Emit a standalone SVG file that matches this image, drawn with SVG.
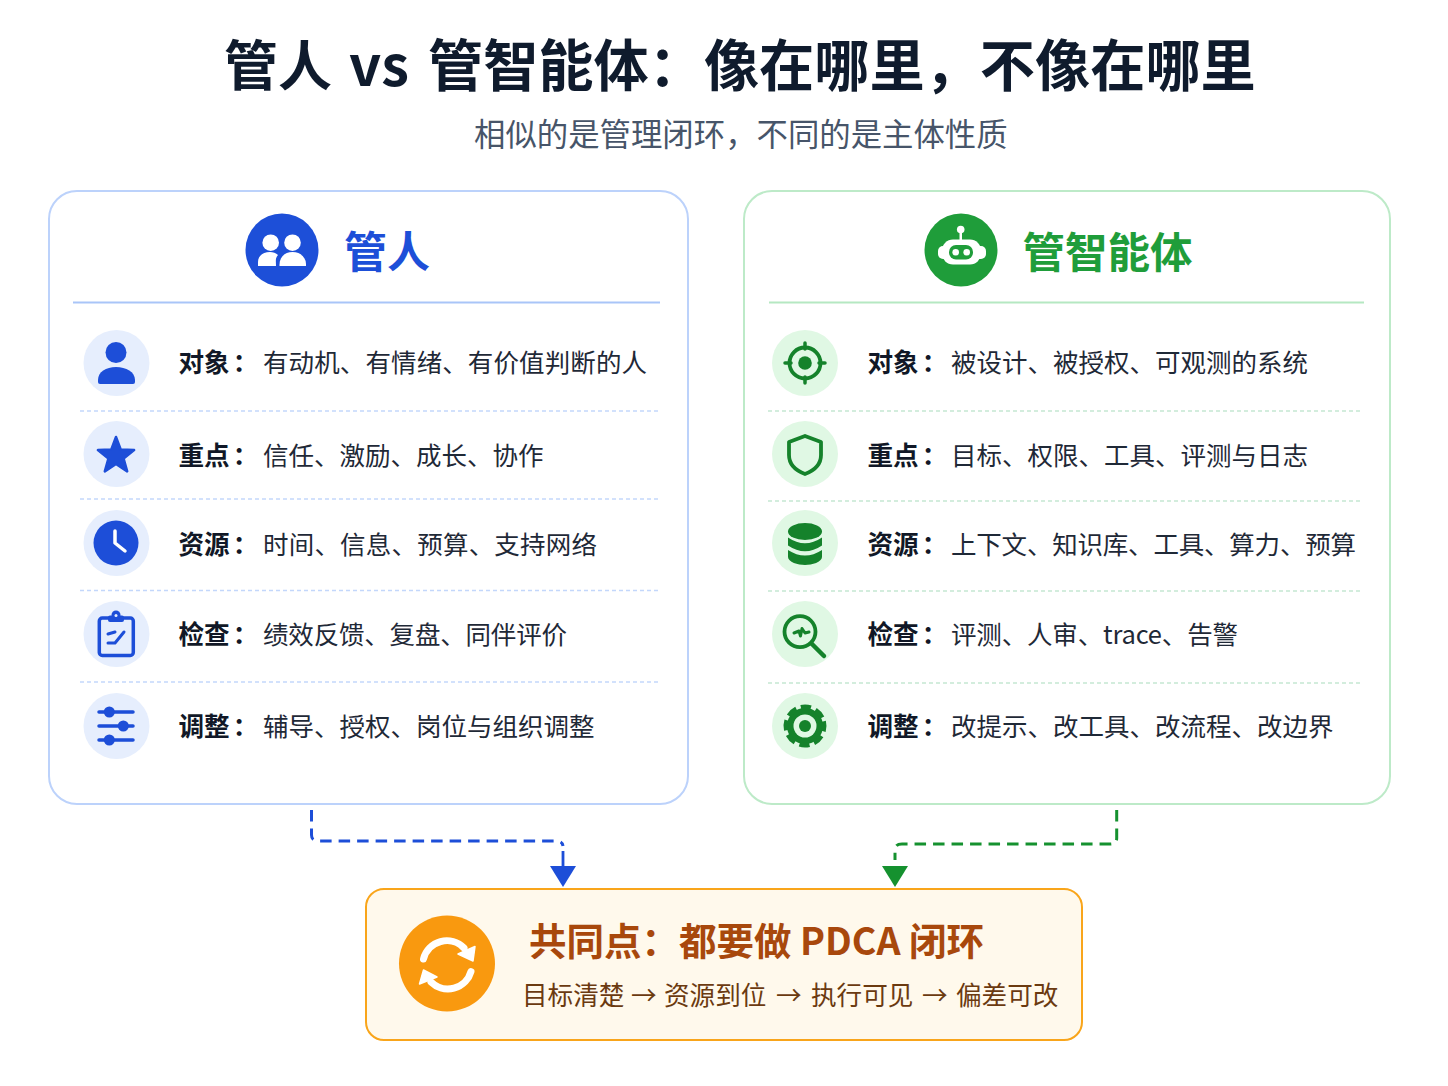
<svg xmlns="http://www.w3.org/2000/svg" width="1448" height="1086" viewBox="0 0 1448 1086">
<style>
text{font-family:"Noto Sans CJK SC","Noto Sans",sans-serif}
.t{font-size:54px;font-weight:700;fill:#0f1b2d}
.sub{font-size:31.4px;fill:#475569}
.lab{font-size:25.6px;font-weight:700;fill:#111827}
.val{font-size:25.5px;fill:#1f2937}
.low{font-size:25.6px;fill:#6b3a10}
.card{fill:#fff;stroke-width:2}
.bl{fill:#1d4ed8}.gr{fill:#15822b}
.bs{fill:none;stroke:#1d4ed8;stroke-linecap:round;stroke-linejoin:round}
.gs{fill:none;stroke:#15822b;stroke-linecap:round;stroke-linejoin:round}
.bd{stroke:#c3d7fb;stroke-width:1.5;stroke-dasharray:4 3}
.gd{stroke:#c5e8d2;stroke-width:1.5;stroke-dasharray:4 3}
.bc{fill:#e6eefd}.gc{fill:#e0f8e4}
</style>
<rect width="1448" height="1086" fill="#fff"/>
<g id="title">
<text class="t" x="224" y="86">管人</text>
<text class="t" x="349" y="86" style="font-size:56px">vs</text>
<text class="t" x="428" y="86" style="font-size:55.200px">管智能体：像在哪里，不像在哪里</text>
<text class="sub" x="474" y="146">相似的是管理闭环，不同的是主体性质</text>
</g>
<g id="card-human">
<rect class="card" x="49" y="191" width="639" height="613" rx="28" stroke="#bcd2fb"/>
<circle cx="282" cy="250" r="36.5" fill="#1d4fd8"/>
<g fill="#fff">
<circle cx="270.7" cy="242.7" r="8.3"/><circle cx="292.5" cy="242.7" r="8.3"/>
<path d="M258 266 V262 C258 256 263 252 270 252 C273 252 276 253 278 255 C275 258 276 262 276 266Z"/>
<path d="M279.500 266 C279 258 284 252 292.500 252 C301 252 306 258 306 264 V266Z"/>
</g>
<text x="344" y="268" style="font-size:43px;font-weight:700;fill:#1d4fd8">管人</text>
<line x1="73" y1="302.500" x2="660" y2="302.500" stroke="#a9c5f8" stroke-width="2"/>
<line class="bd" x1="80" y1="411" x2="660" y2="411"/>
<line class="bd" x1="80" y1="499" x2="660" y2="499"/>
<line class="bd" x1="80" y1="590.500" x2="660" y2="590.500"/>
<line class="bd" x1="80" y1="682" x2="660" y2="682"/>
</g>
<g id="human-object">
<circle class="bc" cx="116.500" cy="363" r="33"/>
<circle class="bl" cx="116" cy="352.500" r="10.500"/>
<path class="bl" d="M98 380 C98 372 106 367 116 367 C126 367 135 372 135 380 V382 Q135 384 133 384 H100 Q98 384 98 382Z"/>
<text class="lab" x="178.500" y="372">对象<tspan dx="3">：</tspan></text><text class="val" x="263" y="372" textLength="384">有动机、有情绪、有价值判断的人</text>
</g>
<g id="human-focus">
<circle class="bc" cx="116.500" cy="454" r="33"/>
<polygon class="bl" stroke="#1d4ed8" stroke-width="2.500" stroke-linejoin="round" points="116,437 120.700,449.500 134.100,450.100 123.600,458.500 127.200,471.400 116,464 104.800,471.400 108.400,458.500 97.900,450.100 111.300,449.500"/>
<text class="lab" x="178.500" y="465">重点<tspan dx="3">：</tspan></text><text class="val" x="263" y="465">信任、激励、成长、协作</text>
</g>
<g id="human-resource">
<circle class="bc" cx="116.500" cy="543" r="33"/>
<circle class="bl" cx="116" cy="543" r="22.500"/>
<path d="M115 531 V543 L125 551" fill="none" stroke="#fff" stroke-width="3.500" stroke-linecap="round" stroke-linejoin="round"/>
<text class="lab" x="178.500" y="554">资源<tspan dx="3">：</tspan></text><text class="val" x="263" y="554" textLength="334">时间、信息、预算、支持网络</text>
</g>
<g id="human-check">
<circle class="bc" cx="116.500" cy="634" r="33"/>
<rect class="bs" x="99.300" y="618" width="34" height="37.500" rx="3" stroke-width="3.500"/>
<rect class="bl" x="108" y="615.500" width="16" height="6.500" rx="2"/>
<circle class="bl" cx="116" cy="615" r="4.500"/><circle cx="116" cy="615.500" r="1.500" fill="#e6eefd"/>
<path class="bs" stroke-width="3" d="M108 634 L115 632 M108 643 H115 L124 632"/>
<text class="lab" x="178.500" y="644">检查<tspan dx="3">：</tspan></text><text class="val" x="263" y="644" textLength="304">绩效反馈、复盘、同伴评价</text>
</g>
<g id="human-adjust">
<circle class="bc" cx="116.500" cy="726" r="33"/>
<path class="bs" stroke-width="3.500" d="M99 712 H133 M99 726 H133 M99 740 H133"/>
<circle class="bl" cx="109.300" cy="712" r="5.500"/><circle class="bl" cx="123.300" cy="726" r="5.500"/><circle class="bl" cx="109.300" cy="740" r="5.500"/>
<text class="lab" x="178.500" y="736">调整<tspan dx="3">：</tspan></text><text class="val" x="263" y="736">辅导、授权、岗位与组织调整</text>
</g>
<g id="card-agent">
<rect class="card" x="744" y="191" width="646" height="613" rx="28" stroke="#bdeac8"/>
<circle cx="961" cy="250" r="36.500" fill="#1f9d3a"/>
<circle cx="960.700" cy="229.500" r="3.800" fill="#fff"/><rect x="959.500" y="230" width="2.500" height="11" fill="#fff"/>
<rect x="938" y="246" width="48" height="13" rx="5" fill="#fff"/>
<rect x="942" y="239.500" width="39" height="25" rx="11" fill="#fff"/>
<rect x="949" y="245" width="24" height="14.500" rx="7" fill="#1f9d3a"/>
<circle cx="955.700" cy="252.300" r="3.300" fill="#fff"/><circle cx="966.700" cy="252.300" r="3.300" fill="#fff"/>
<text x="1022.500" y="268" style="font-size:42.500px;font-weight:700;fill:#1f9d3a">管智能体</text>
<line x1="769" y1="302.500" x2="1364" y2="302.500" stroke="#b5e8c2" stroke-width="2"/>
<line class="gd" x1="768" y1="411" x2="1360" y2="411"/>
<line class="gd" x1="768" y1="501" x2="1360" y2="501"/>
<line class="gd" x1="768" y1="591" x2="1360" y2="591"/>
<line class="gd" x1="768" y1="683" x2="1360" y2="683"/>
</g>
<g id="agent-object">
<circle class="gc" cx="805" cy="363" r="33"/>
<circle class="gs" cx="805" cy="363" r="15.500" stroke-width="3.800"/>
<circle class="gr" cx="805" cy="363" r="6.800"/>
<path class="gs" stroke-width="3.500" d="M805 343 V349 M805 377 V383 M785 363 H791 M819 363 H825"/>
<text class="lab" x="867.500" y="372">对象<tspan dx="3">：</tspan></text><text class="val" x="951" y="372">被设计、被授权、可观测的系统</text>
</g>
<g id="agent-focus">
<circle class="gc" cx="805" cy="454" r="33"/>
<path class="gs" stroke-width="3.800" d="M805 436 L821 442 V455 C821 465 813 471 805 474 C797 471 789 465 789 455 V442Z"/>
<text class="lab" x="867.500" y="465">重点<tspan dx="3">：</tspan></text><text class="val" x="951" y="465">目标、权限、工具、评测与日志</text>
</g>
<g id="agent-resource">
<circle class="gc" cx="805" cy="543" r="33"/>
<ellipse class="gr" cx="805" cy="531.500" rx="17" ry="8.500"/>
<path class="gr" d="M788 537.500 Q805 549 822 537.500 V545.500 Q805 557 788 545.500Z"/>
<path class="gr" d="M788 550 Q805 561 822 550 V557 C822 562 812 565 805 565 C798 565 788 562 788 557Z"/>
<text class="lab" x="867.500" y="554">资源<tspan dx="3">：</tspan></text><text class="val" x="951" y="554" textLength="405">上下文、知识库、工具、算力、预算</text>
</g>
<g id="agent-check">
<circle class="gc" cx="805" cy="634" r="33"/>
<circle class="gs" cx="800" cy="631.700" r="15.500" stroke-width="3.800"/>
<path class="gs" stroke-width="4.500" d="M812 644 L824 656"/>
<path class="gs" stroke-width="3" d="M794 633 L799 631 L800.500 636 L802 628.500 L805 633 L809 632"/>
<text class="lab" x="867.500" y="644">检查<tspan dx="3">：</tspan></text><text class="val" x="951" y="644" textLength="287">评测、人审、trace、告警</text>
</g>
<g id="agent-adjust">
<circle class="gc" cx="805" cy="726" r="33"/>
<circle class="gr" cx="805" cy="726" r="18"/>
<circle cx="805" cy="726" r="19" fill="none" stroke="#15822b" stroke-width="5" stroke-dasharray="10 4.920" transform="rotate(-14 805 726)"/>
<circle class="gc" cx="805" cy="726" r="11.500"/>
<circle class="gr" cx="805" cy="726" r="6"/>
<text class="lab" x="867.500" y="736">调整<tspan dx="3">：</tspan></text><text class="val" x="951" y="736">改提示、改工具、改流程、改边界</text>
</g>
<g id="connectors">
<path d="M311.500 810 V835 Q311.500 841 318 841 H556 Q562.500 841 563 846" fill="none" stroke="#1d4ed8" stroke-width="3" stroke-dasharray="11.500 7"/>
<line x1="563" y1="851" x2="563" y2="868" stroke="#1d4ed8" stroke-width="2.800"/>
<polygon points="550,866 576,866 563,887" fill="#1d4ed8"/>
<path d="M1116.700 810 V838 Q1116.700 844 1110 844 H902 Q895 844 895 850 V860" fill="none" stroke="#15912f" stroke-width="3" stroke-dasharray="11.500 7"/>
<polygon points="882,866 908,866 895,887" fill="#15912f"/>
</g>
<g id="common">
<rect x="366" y="889" width="716" height="151" rx="18" fill="#fff9ec" stroke="#f9a51a" stroke-width="2"/>
<circle cx="447" cy="963.500" r="48" fill="#f9990f"/>
<path d="M423.500 959 A24 24 0 0 1 464 948 M471 971.500 A24 24 0 0 1 431 982" fill="none" stroke="#fff" stroke-width="7" stroke-linecap="round"/>
<polygon points="458,954 475,946.500 473,961" fill="#fff" stroke="#fff" stroke-width="1.500" stroke-linejoin="round"/>
<polygon points="419.500,984 423.500,970 437,977" fill="#fff" stroke="#fff" stroke-width="1.500" stroke-linejoin="round"/>
<text x="529" y="955" style="font-size:37.500px;font-weight:700;fill:#a8480c">共同点：都要做 PDCA 闭环</text>
<text class="low" y="1005"><tspan x="522">目标清楚</tspan><tspan x="631">→</tspan><tspan x="664">资源到位</tspan><tspan x="776">→</tspan><tspan x="811">执行可见</tspan><tspan x="922">→</tspan><tspan x="956">偏差可改</tspan></text>
</g>
</svg>
